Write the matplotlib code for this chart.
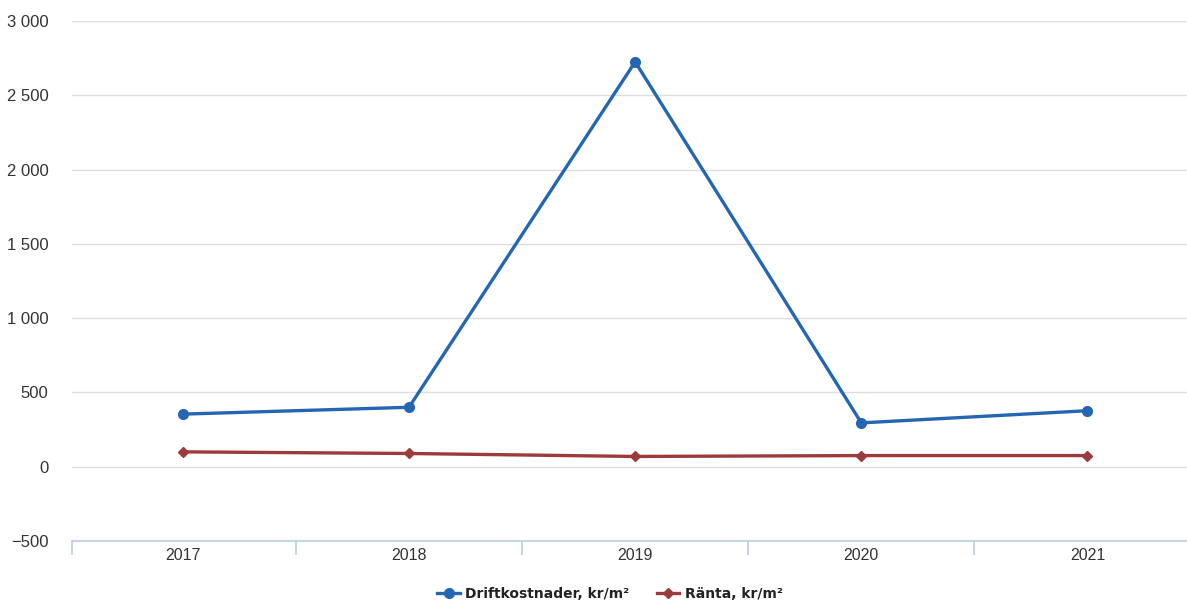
import numpy as np
import matplotlib
matplotlib.use("Agg")
import matplotlib.pyplot as plt

years = ["2017", "2018", "2019", "2020", "2021"]
driftkostnader = [354, 400, 2725, 295, 377]
ranta = [100, 89, 69, 75, 75]
y_ticks = [-500, 0, 500, 1000, 1500, 2000, 2500, 3000]

blue = "#2566b2"
red = "#9c3b3b"

fig = plt.figure(figsize=(11.87, 6.04), dpi=100)
ax = fig.add_axes([72 / 1187, 63 / 604, 1 - 72 / 1187, 520 / 604])

x = np.arange(len(years))
ax.plot(x, driftkostnader, color=blue, lw=2.4, marker="o", ms=7,
        label="Driftkostnader, kr/m²", zorder=3)
ax.plot(x, ranta, color=red, lw=2.4, marker="D", ms=5,
        label="Ränta, kr/m²", zorder=3)

ax.set_xlim(-0.49, 4.44)
ax.set_ylim(-500, 3000)
ax.set_yticks(y_ticks)
ax.set_yticklabels([f"{v:,}".replace(",", " ").replace("-", "\u2212") for v in y_ticks],
                   family="Liberation Sans")
ax.grid(axis="y", color="#dddddd", lw=1)
ax.set_axisbelow(True)

for s in ["top", "right", "left"]:
    ax.spines[s].set_visible(False)
ax.spines["bottom"].set_color("#b8cde3")
ax.spines["bottom"].set_linewidth(1.2)

ax.set_xticks(x)
ax.set_xticklabels(years, family="Liberation Sans")
ax.tick_params(axis="x", length=0, pad=5, labelsize=11.5, colors="#333333")
ax.set_xticks([-0.49, 0.5, 1.5, 2.5, 3.5], minor=True)
ax.tick_params(axis="x", which="minor", length=10, color="#b8cde3", width=1.2)
ax.tick_params(axis="y", length=0, pad=17, labelsize=12, colors="#333333")

leg = fig.legend(loc="center", bbox_to_anchor=(0.514, 0.017), ncol=2,
                 frameon=False, handlelength=1.6, handletextpad=0.4, columnspacing=2.0,
                 prop={"weight": "bold", "size": 10})
for t in leg.get_texts():
    t.set_color("#222222")

fig.savefig("out.png", dpi=100)
